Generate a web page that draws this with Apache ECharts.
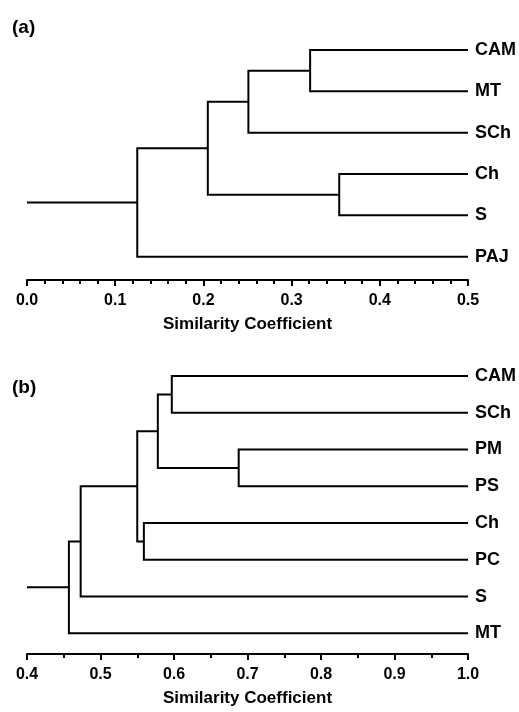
<!DOCTYPE html>
<html><head><meta charset="utf-8">
<script src="https://cdn.jsdelivr.net/npm/echarts@6/dist/echarts.min.js"></script>
<style>html,body{margin:0;padding:0;background:#fff}#c{width:519px;height:712px}</style>
</head><body><div id="c"></div>
<script>
// Panel (a)
const leavesA = ['CAM', 'MT', 'SCh', 'Ch', 'S', 'PAJ'];
// merges: [childA, childB, similarity]; '#k' refers to the k-th merge
const mergesA = [['CAM', 'MT', 0.321], ['Ch', 'S', 0.354], ['#0', 'SCh', 0.251], ['#2', '#1', 0.205], ['#3', 'PAJ', 0.125]];
const rangeA = [0.0, 0.5];
// Panel (b)
const leavesB = ['CAM', 'SCh', 'PM', 'PS', 'Ch', 'PC', 'S', 'MT'];
const mergesB = [['CAM', 'SCh', 0.597], ['PM', 'PS', 0.688], ['#0', '#1', 0.578], ['Ch', 'PC', 0.559], ['#2', '#3', 0.550], ['#4', 'S', 0.473], ['#5', 'MT', 0.457]];
const rangeB = [0.4, 1.0];
const axisTitle = 'Similarity Coefficient';
const panelLabels = ['(a)', '(b)'];

function build(leaves, merges, range) {
  const pos = {};
  leaves.forEach((n, i) => pos[n] = { y: i, h: range[1] });
  const segs = [];
  merges.forEach((m, k) => {
    const a = pos[m[0]], b = pos[m[1]], h = m[2];
    segs.push({ coords: [[a.h, a.y], [h, a.y], [h, b.y], [b.h, b.y]] });
    pos['#' + k] = { y: (a.y + b.y) / 2, h: h };
  });
  const root = pos['#' + (merges.length - 1)];
  segs.push({ coords: [[range[0], root.y], [root.h, root.y]] });
  return segs;
}

const FF = '"Liberation Sans", Arial, sans-serif';
function xAx(gi, range, minorSplit) {
  return {
    type: 'value', gridIndex: gi, min: range[0], max: range[1], interval: 0.1, position: 'bottom',
    axisLine: { onZero: false, lineStyle: { color: '#000', width: 2 } },
    axisTick: { length: 6, lineStyle: { color: '#000', width: 2 } },
    minorTick: { show: true, splitNumber: minorSplit, length: 4, lineStyle: { color: '#000', width: 2 } },
    splitLine: { show: false }, minorSplitLine: { show: false },
    axisLabel: { formatter: v => v.toFixed(1), fontSize: 16, fontWeight: 'bold', fontFamily: FF, color: '#000', margin: 13 },
    name: axisTitle, nameLocation: 'middle', nameGap: 36,
    nameTextStyle: { fontSize: 17, fontWeight: 'bold', fontFamily: FF, color: '#000' }
  };
}
function yAx(gi, leaves, max) {
  return {
    type: 'value', gridIndex: gi, inverse: true, min: 0, max: max, interval: 1, position: 'right',
    axisLine: { show: false, onZero: false }, axisTick: { show: false }, splitLine: { show: false },
    axisLabel: {
      margin: 7, fontSize: 18, fontWeight: 'bold', fontFamily: FF, color: '#000',
      formatter: v => { const r = Math.round(v); return Math.abs(v - r) < 1e-6 && leaves[r] ? leaves[r] : ''; }
    }
  };
}
function ser(i, data) {
  return { type: 'lines', coordinateSystem: 'cartesian2d', xAxisIndex: i, yAxisIndex: i, polyline: true,
    silent: true, clip: false, lineStyle: { color: '#000', width: 2, opacity: 1 }, data: data };
}

const chart = echarts.init(document.getElementById('c'), null, { renderer: 'canvas' });
chart.setOption({
  animation: false,
  backgroundColor: '#fff',
  title: [
    { text: panelLabels[0], left: 7, top: 13, textStyle: { fontSize: 19, fontWeight: 'bold', fontFamily: FF, color: '#000' } },
    { text: panelLabels[1], left: 7, top: 373, textStyle: { fontSize: 19, fontWeight: 'bold', fontFamily: FF, color: '#000' } }
  ],
  grid: [
    { left: 27, right: 50, top: 50, bottom: 432 },
    { left: 27, right: 49, top: 376, bottom: 58 }
  ],
  xAxis: [xAx(0, rangeA, 5), xAx(1, rangeB, 2)],
  yAxis: [yAx(0, leavesA, 230 / 41.33), yAx(1, leavesB, 278 / 36.76)],
  series: [ser(0, build(leavesA, mergesA, rangeA)), ser(1, build(leavesB, mergesB, rangeB))]
});
</script></body></html>
